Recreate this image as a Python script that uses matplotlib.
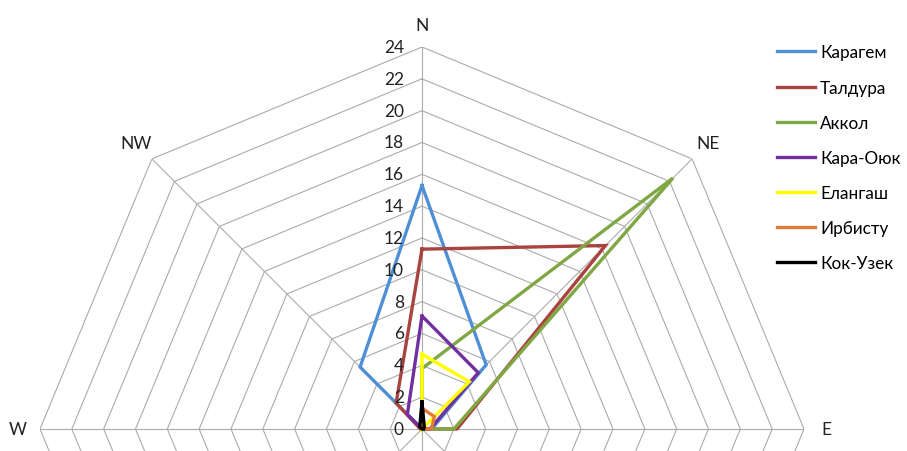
import numpy as np
import matplotlib
matplotlib.use('Agg')
import matplotlib.pyplot as plt
import matplotlib.transforms as mtransforms

plt.rcParams['font.family'] = ['Lato', 'DejaVu Sans']

# Richtungen (im Uhrzeigersinn ab Nord)
richtungen = ['N', 'NE', 'E', 'SE', 'S', 'SW', 'W', 'NW']
# im Original sichtbare Richtungsbeschriftungen (unterer Teil abgeschnitten)
sichtbar = ['N', 'NE', 'E', 'W', 'NW']

# Werte je Station
karagem = [15.3, 5.7, 0.6, 0, 0, 0, 0, 5.5]
taldura = [11.3, 16.3, 2.2, 0, 0, 0, 0.1, 2.3]
akkol = [3.8, 22.3, 2.0, 0, 0, 0, 0, 0]
kara_oyuk = [7.1, 5.0, 0.5, 0, 0, 0, 0, 1.3]
elangash = [4.7, 4.2, 0, 0, 0, 0, 0, 0]
irbistu = [1.3, 1.1, 0.6, 0, 0, 0, 0, 0.1]
kok_uzek = [1.7, 0.2, 0.1, 0, 0, 0, 0, 0.2]

namen = ['Карагем', 'Талдура', 'Аккол', 'Кара-Оюк', 'Елангаш', 'Ирбисту', 'Кок-Узек']
serien = [karagem, taldura, akkol, kara_oyuk, elangash, irbistu, kok_uzek]
farben = ['#4F8FD6', '#A9433F', '#7FA843', '#7030A0', '#FFFF00', '#E07B39', '#000000']

r_ticks = list(range(0, 25, 2))

W, H = 907, 452
fig = plt.figure(figsize=(W / 100, H / 100), dpi=100)

# Mittelpunkt und Radius in Pixeln (Diagramm unten abgeschnitten)
cx, cy, rad = 422, 430, 382
ax = fig.add_axes([(cx - rad) / W, (H - cy - rad) / H, 2 * rad / W, 2 * rad / H],
                  projection='polar')
ax.set_theta_zero_location('N')
ax.set_theta_direction(-1)
ax.set_ylim(0, 24)
ax.grid(False)
ax.set_xticks([])
ax.set_yticks([])
ax.spines['polar'].set_visible(False)
ax.patch.set_alpha(0)

theta = np.deg2rad(np.arange(len(richtungen)) * 45)
theta_c = np.append(theta, theta[0])

# Achteckiges Gitter
for r in r_ticks[1:]:
    ax.plot(theta_c, [r] * len(theta_c), color='#ABABAB', lw=0.8, zorder=1)
for t in theta:
    ax.plot([t, t], [0, 24], color='#ABABAB', lw=0.8, zorder=1)

# Serien
for name, werte, farbe in zip(namen, serien, farben):
    w = np.append(werte, werte[0])
    ax.plot(theta_c, w, color=farbe, lw=2.4, label=name, zorder=3,
            solid_joinstyle='miter')

# Radiale Beschriftung links der Nordachse
offset = mtransforms.offset_copy(ax.transData, fig=fig, x=-18, y=0, units='dots')
for r in r_ticks:
    ax.text(0, r, str(r), transform=offset, ha='right', va='center',
            fontsize=12.5, color='#222222')

# Richtungsbeschriftung
for t, lab in zip(theta, richtungen):
    if lab in sichtbar:
        ax.text(t, 25.4, lab, ha='center', va='center', fontsize=12.5,
                color='#222222', clip_on=False)

fig.legend(loc='upper left', bbox_to_anchor=(762 / W, 1 - 30 / H), frameon=False,
           fontsize=12.3, handlelength=2.2, handletextpad=0.3, labelspacing=1.12)

fig.savefig('out.png', dpi=100)
